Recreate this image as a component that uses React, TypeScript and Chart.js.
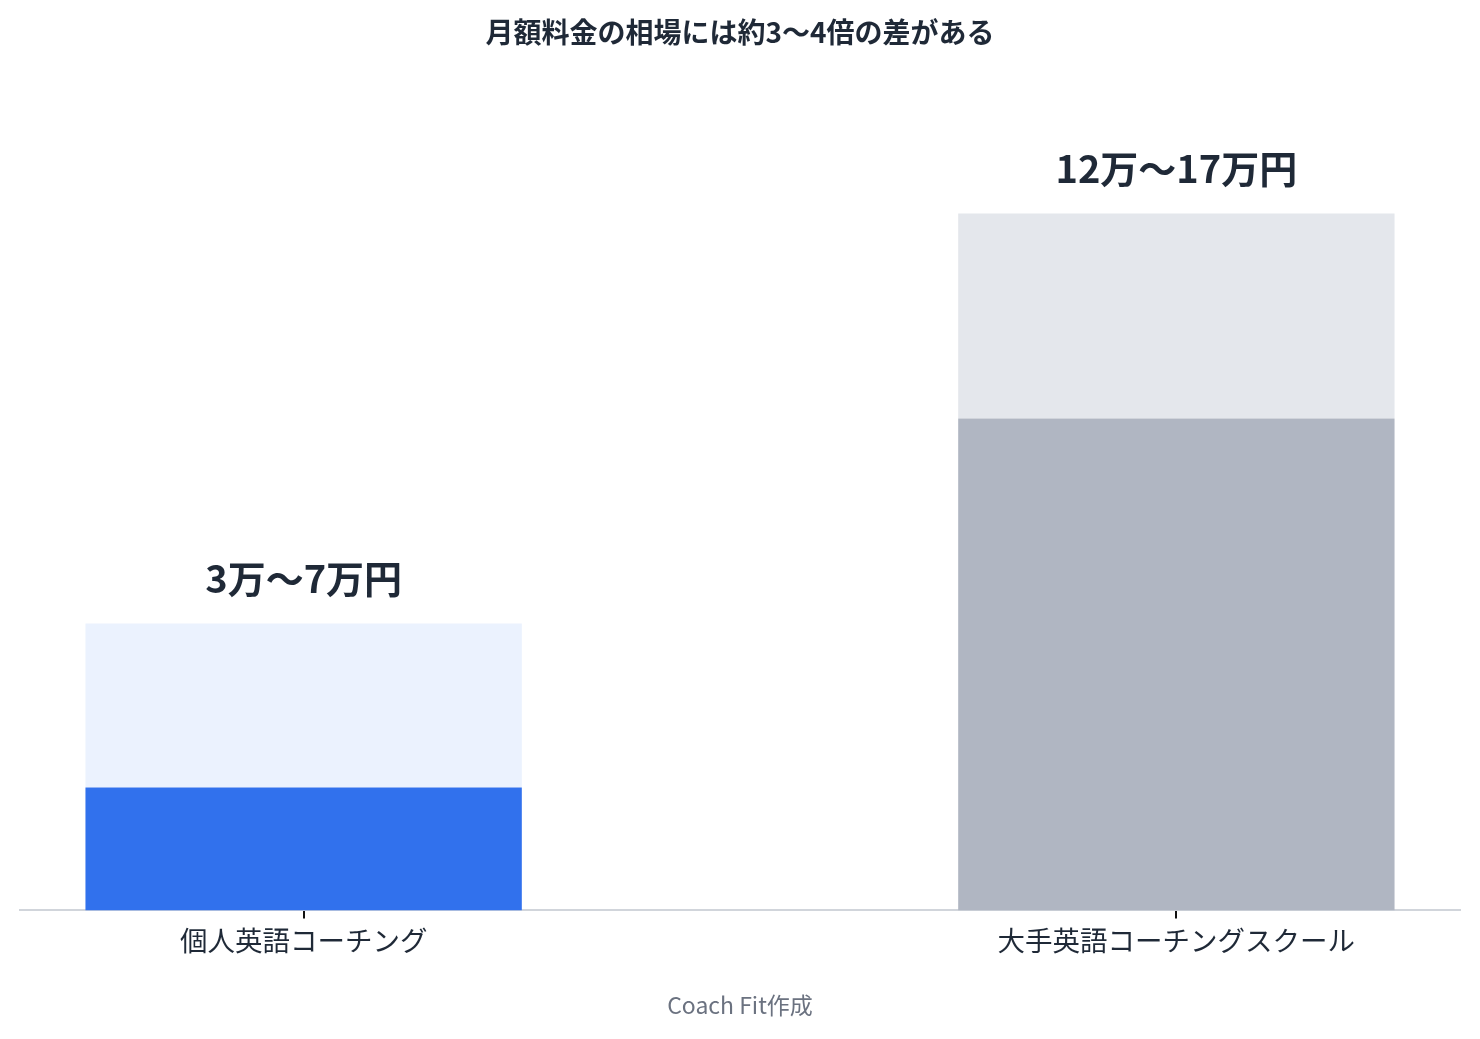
import React, { useEffect, useRef } from "react";
import { Chart, registerables } from "chart.js";

Chart.register(...registerables);

const titleText = "月額料金の相場には約3〜4倍の差がある";
const sourceText = "Coach Fit作成";
const categories = ["個人英語コーチング", "大手英語コーチングスクール"];
const lowerValues = [3, 12];
const upperValues = [7, 17];
const rangeLabels = ["3万〜7万円", "12万〜17万円"];
const lowerColors = ["#3171ED", "#B0B6C2"];
const upperColors = ["#EBF2FE", "#E4E7EC"];

const FONT = "'Noto Sans CJK JP', 'Noto Sans', sans-serif";

const valueLabelPlugin = {
  id: "valueLabels",
  afterDatasetsDraw(chart: any) {
    const { ctx, scales } = chart;
    const xs = scales.x;
    const ys = scales.y;
    ctx.save();
    ctx.font = `bold 38px ${FONT}`;
    ctx.fillStyle = "#1F2937";
    ctx.textAlign = "center";
    ctx.textBaseline = "middle";
    rangeLabels.forEach((label, i) => {
      const x = xs.getPixelForValue(i);
      const y = ys.getPixelForValue(upperValues[i]);
      ctx.fillText(label, x, y - 45);
    });
    ctx.restore();
  },
};

export default function App() {
  const canvasRef = useRef<HTMLCanvasElement | null>(null);

  useEffect(() => {
    document.body.style.margin = "0";
    const canvas = canvasRef.current;
    if (!canvas) return;
    const chart = new Chart(canvas, {
      type: "bar",
      data: {
        datasets: [
          {
            label: "lower",
            data: lowerValues.map((v, i) => ({ x: i, y: [0, v] })) as any,
            backgroundColor: lowerColors,
            grouped: false,
            categoryPercentage: 0.5,
            barPercentage: 1,
            borderWidth: 0,
          },
          {
            label: "upper",
            data: upperValues.map((v, i) => ({ x: i, y: [lowerValues[i], v] })) as any,
            backgroundColor: upperColors,
            grouped: false,
            categoryPercentage: 0.5,
            barPercentage: 1,
            borderWidth: 0,
          },
        ],
      },
      options: {
        animation: false,
        responsive: true,
        maintainAspectRatio: false,
        layout: { padding: { left: 20, right: 20, top: 0, bottom: 11 } },
        plugins: {
          legend: { display: false },
          tooltip: { enabled: false },
          title: {
            display: true,
            text: titleText,
            color: "#1F2937",
            font: { family: FONT, size: 28, weight: "bold" },
            padding: { top: 16, bottom: 41 },
          },
          subtitle: {
            display: true,
            position: "bottom",
            text: sourceText,
            color: "#6B7280",
            font: { family: FONT, size: 23, weight: "normal" },
            padding: { top: 28, bottom: 9 },
          },
        },
        scales: {
          x: {
            type: "linear",
            offset: false,
            min: -0.325,
            max: 1.325,
            afterBuildTicks: (scale: any) => {
              scale.ticks = categories.map((_, i) => ({ value: i }));
            },
            ticks: {
              autoSkip: false,
              maxRotation: 0,
              padding: 6,
              color: "#1F2937",
              font: { family: FONT, size: 27.5 },
              callback: (value: any) => categories[value as number] ?? "",
            },
            grid: {
              offset: false,
              drawOnChartArea: false,
              drawTicks: true,
              tickLength: 8,
              tickColor: "#111111",
              lineWidth: 2,
            },
            border: { display: true, color: "#D1D5DB", width: 2 },
          },
          y: {
            display: false,
            min: 0,
            max: 20,
          },
        },
      },
      plugins: [valueLabelPlugin],
    });
    return () => chart.destroy();
  }, []);

  return (
    <div style={{ width: 1480, height: 1039, position: "relative", background: "#fff" }}>
      <canvas ref={canvasRef} />
    </div>
  );
}
